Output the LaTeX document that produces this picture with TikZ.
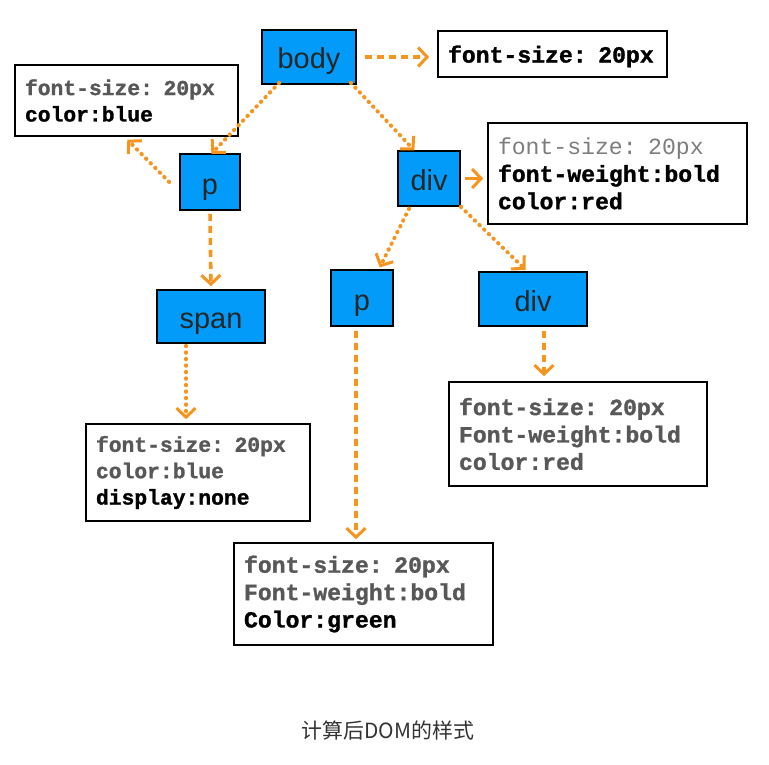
\documentclass[tikz,border=0pt]{standalone}
\usepackage{fontspec}
\setmainfont{Liberation Sans}
\setmonofont{Liberation Mono}[BoldFeatures={FakeBold=1.3}]
\newfontfamily\cjk{Noto Sans CJK SC}
\usetikzlibrary{arrows.meta}
\definecolor{nodeblue}{RGB}{3,155,250}
\definecolor{arr}{RGB}{247,148,30}
\definecolor{txgray}{RGB}{88,88,88}
\definecolor{txlight}{RGB}{125,125,125}
\definecolor{capgray}{RGB}{51,51,51}
\tikzset{
  elem/.style={draw=black, line width=1.6bp, fill=nodeblue, inner sep=0pt,
    font=\fontsize{29}{31}\selectfont, text=black!85,
    text height=24bp, text depth=0bp},
  stylebox/.style={draw=black, line width=1.6bp, fill=white, align=left,
    inner xsep=10bp, inner ysep=0pt,
    font=\fontsize{23.2}{27.5}\selectfont\ttfamily\bfseries},
  smallbox/.style={stylebox, font=\fontsize{21.4}{26.5}\selectfont\ttfamily\bfseries},
  tip/.style={-{Straight Barb[length=9bp,width=19bp,line width=3bp]}},
  dotarr/.style={tip, draw=arr, line width=4bp, line cap=round,
    dash pattern=on 0.5bp off 6bp},
  dasharr/.style={tip, draw=arr, line width=3.6bp, dash pattern=on 7bp off 5bp},
  solarr/.style={tip, draw=arr, line width=3.6bp},
}
\newcommand{\gl}[1]{\textcolor{txgray}{#1}}
\newcommand{\lt}[1]{\textcolor{txlight}{\mdseries #1}}
\begin{document}
\begin{tikzpicture}[x=1bp,y=-1bp]
\useasboundingbox[fill=white] (0,0) rectangle (769,765);
% element nodes
\node[elem, minimum width=94bp, minimum height=54bp] (body) at (309,57) {body};
\node[elem, minimum width=60bp, minimum height=56bp] (p1) at (210,182) {p};
\node[elem, minimum width=62bp, minimum height=55bp] (div1) at (429,178.5) {div};
\node[elem, minimum width=108bp, minimum height=53bp] (span) at (211,316.5) {span};
\node[elem, minimum width=62bp, minimum height=56bp] (p2) at (362,298) {p};
\node[elem, minimum width=108bp, minimum height=54bp] (div2) at (533,299) {div};
% style boxes
\node[stylebox, text width=209bp, minimum height=46bp, text depth=0bp] (tr) at (552.5,54) {font-size: 20px};
\node[smallbox, text width=203bp, minimum height=71bp] (tl) at (126.5,100.5) {\gl{font-size: 20px}\\color:blue};
\node[stylebox, text width=239bp, minimum height=101bp] (d1s) at (617.5,173.5) {\lt{font-size: 20px}\\font-weight:bold\\color:red};
\node[smallbox, text width=204bp, minimum height=97bp] (ss) at (198,472.5) {\gl{font-size: 20px}\\\gl{color:blue}\\display:none};
\node[stylebox, text width=238bp, minimum height=104bp] (d2s) at (578,434) {\gl{font-size: 20px}\\\gl{Font-weight:bold}\\\gl{color:red}};
\node[stylebox, text width=239bp, minimum height=102bp] (p2s) at (363.5,594) {\gl{font-size: 20px}\\\gl{Font-weight:bold}\\Color:green};
% caption
\node[font=\cjk\fontsize{21}{24}\selectfont, text=capgray] (cap) at (388,731) {计算后DOM的样式};
% connectors
\draw[dasharr, shorten <=8bp, shorten >=8bp] (body.east) -- (body.east -| tr.west);
\draw[dotarr, shorten >=2bp] ([xshift=18bp,yshift=2bp]body.south west) -- ([yshift=-2bp]p1.north);
\draw[dotarr, shorten >=1bp] ([xshift=-6bp,yshift=2bp]body.south east) -- ([xshift=-14bp,yshift=-1bp]div1.north);
\draw[dotarr, shorten >=4bp] ([xshift=-10bp]p1.west) -- ([xshift=-2bp]tl.south);
\draw[solarr, shorten <=4bp, shorten >=4bp] (div1.east) -- (div1.east -| d1s.west);
\draw[dasharr, shorten <=3bp, shorten >=3bp] (p1.south) -- (span.north);
\draw[dotarr, shorten <=2bp, shorten >=2bp] ([xshift=-19bp]div1.south) -- ([xshift=-15bp]p2.north east);
\draw[dotarr, shorten >=2bp] (div1.south east) -- ([xshift=-6bp]div2.north);
\draw[dotarr, shorten <=2bp, shorten >=4bp] ([xshift=-25bp]span.south) -- ([xshift=-25bp]span.south |- ss.north);
\draw[dasharr, shorten <=4bp, shorten >=3bp] ([xshift=-6bp]p2.south) -- ([xshift=-6bp]p2.south |- p2s.north);
\draw[dasharr, shorten <=4bp, shorten >=5bp] ([xshift=11bp]div2.south) -- ([xshift=11bp]div2.south |- d2s.north);
\end{tikzpicture}
\end{document}
